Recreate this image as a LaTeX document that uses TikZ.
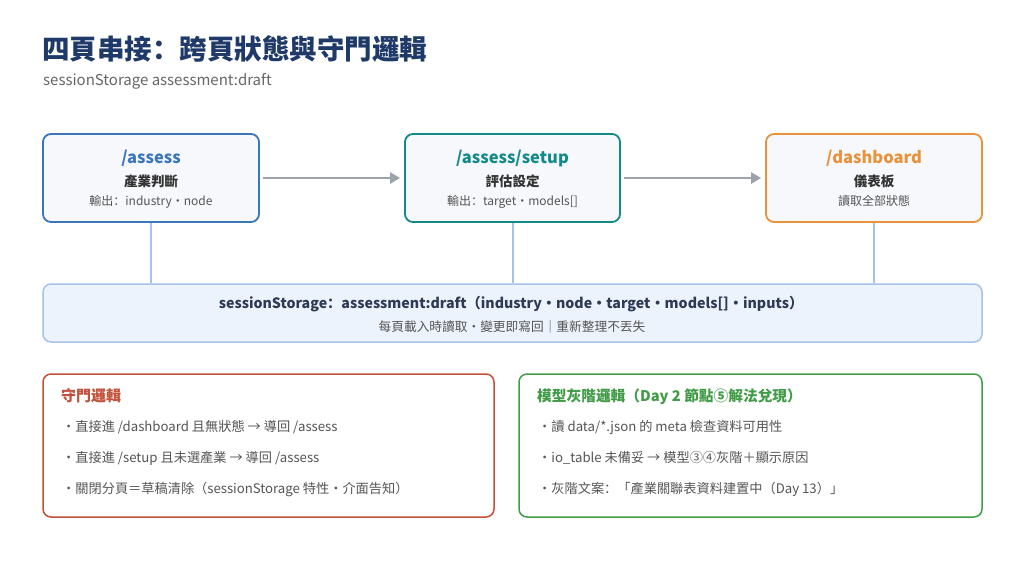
\documentclass[tikz,border=0pt]{standalone}
\usepackage{fontspec}
\setmainfont{Noto Sans CJK SC}
\usetikzlibrary{arrows.meta}
\definecolor{navy}{HTML}{1F3A68}
\definecolor{subgray}{HTML}{666666}
\definecolor{cblue}{HTML}{3B76BB}
\definecolor{cteal}{HTML}{13898A}
\definecolor{corange}{HTML}{E8923C}
\definecolor{arrgray}{HTML}{9CA3AD}
\definecolor{linkblue}{HTML}{A6C2E8}
\definecolor{storefill}{HTML}{EDF3FC}
\definecolor{storetext}{HTML}{2D3B55}
\definecolor{cred}{HTML}{C2503A}
\definecolor{cgreen}{HTML}{419B47}
\definecolor{boxfill}{HTML}{F6F8FB}
\definecolor{darktext}{HTML}{333333}
\definecolor{bodytext}{HTML}{555555}
\tikzset{
  pagebox/.style={draw=#1, line width=1.8pt, rounded corners=8pt, fill=boxfill},
  panelbox/.style={draw=#1, line width=1.5pt, rounded corners=8pt, fill=white},
  pagetitle/.style={anchor=base, font=\fontsize{16.5}{18}\selectfont\bfseries, text=#1, inner sep=0pt},
  pagesub/.style={anchor=base, font=\fontsize{13.5}{15}\selectfont\bfseries, text=darktext, inner sep=0pt},
  pagenote/.style={anchor=base, font=\fontsize{12}{14}\selectfont, text=bodytext, inner sep=0pt},
  flowarrow/.style={draw=arrgray, line width=2.6pt, -{Triangle[length=10pt,width=11pt]}},
  linkline/.style={draw=linkblue, line width=2pt},
  paneltitle/.style={anchor=base west, font=\fontsize{#1}{17}\selectfont\bfseries, inner sep=0pt},
  bullet/.style={anchor=base west, font=\fontsize{13.2}{15}\selectfont, text=bodytext, inner sep=0pt},
}
\begin{document}
\begin{tikzpicture}[x=1pt,y=-1pt]
\useasboundingbox[fill=white] (0,0) rectangle (1024,566);
% title
\node[anchor=base west, inner sep=0pt, font=\fontsize{27.5}{30}\selectfont\bfseries, text=navy] (title) at (42,59) {四頁串接：跨頁狀態與守門邏輯};
\node[anchor=base west, inner sep=0pt, font=\fontsize{15}{17}\selectfont, text=subgray] (subtitle) at (43,85) {sessionStorage assessment:draft};
% page boxes
\node[pagebox=cblue, minimum width=216pt, minimum height=88pt, inner sep=0pt] (p1) at (151,178) {};
\node[pagebox=cteal, minimum width=215pt, minimum height=88pt, inner sep=0pt] (p2) at (512.5,178) {};
\node[pagebox=corange, minimum width=216pt, minimum height=88pt, inner sep=0pt] (p3) at (874,178) {};
\node[pagetitle=cblue] (p1t) at (151,163) {/assess};
\node[pagesub] (p1s) at (151,186.5) {產業判斷};
\node[pagenote] (p1n) at (151,205.5) {輸出：industry・node};
\node[pagetitle=cteal] (p2t) at (512.5,163) {/assess/setup};
\node[pagesub] (p2s) at (512.5,186.5) {評估設定};
\node[pagenote] (p2n) at (512.5,205.5) {輸出：target・models[]};
\node[pagetitle=corange] (p3t) at (874,163) {/dashboard};
\node[pagesub] (p3s) at (874,186.5) {儀表板};
\node[pagenote] (p3n) at (874,205.5) {讀取全部狀態};
% arrows
\draw[flowarrow] ([xshift=3pt]p1.east) -- ([xshift=-4pt]p2.west);
\draw[flowarrow] ([xshift=3pt]p2.east) -- ([xshift=-4pt]p3.west);
% storage bar
\node[draw=linkblue, line width=1.5pt, rounded corners=8pt, fill=storefill, minimum width=939pt, minimum height=58pt, inner sep=0pt] (store) at (512.5,313) {};
\node[anchor=base, inner sep=0pt, font=\fontsize{14.2}{17}\selectfont\bfseries, text=storetext] (storet) at (511,308) {sessionStorage：assessment:draft（industry・node・target・models[]・inputs）};
\node[anchor=base, inner sep=0pt, font=\fontsize{12.7}{14}\selectfont, text=bodytext] (storen) at (512,331) {每頁載入時讀取・變更即寫回｜重新整理不丟失};
% links
\draw[linkline] (p1.south) -- (p1.south |- store.north);
\draw[linkline] (p2.south) -- (p2.south |- store.north);
\draw[linkline] (p3.south) -- (p3.south |- store.north);
% guard panel
\node[panelbox=cred, minimum width=451pt, minimum height=143pt, inner sep=0pt] (guard) at (268.5,445.5) {};
\node[paneltitle=15, text=cred] (guardt) at (61,401) {守門邏輯};
\node[bullet] (g1) at (62,431) {・直接進 /dashboard 且無狀態 → 導回 /assess};
\node[bullet] (g2) at (62,462) {・直接進 /setup 且未選產業 → 導回 /assess};
\node[bullet] (g3) at (62,493) {・關閉分頁＝草稿清除（sessionStorage 特性・介面告知）};
% gray-out panel
\node[panelbox=cgreen, minimum width=463pt, minimum height=143pt, inner sep=0pt] (gray) at (750.5,445.5) {};
\node[paneltitle=14.7, text=cgreen] (grayt) at (537,401) {模型灰階邏輯（Day 2 節點⑤解法兌現）};
\node[bullet] (r1) at (538,431) {・讀 data/*.json 的 meta 檢查資料可用性};
\node[bullet] (r2) at (538,462) {・io\_table 未備妥 → 模型③④灰階＋顯示原因};
\node[bullet] (r3) at (538,493) {・灰階文案：「產業關聯表資料建置中（Day 13）」};
\end{tikzpicture}
\end{document}
